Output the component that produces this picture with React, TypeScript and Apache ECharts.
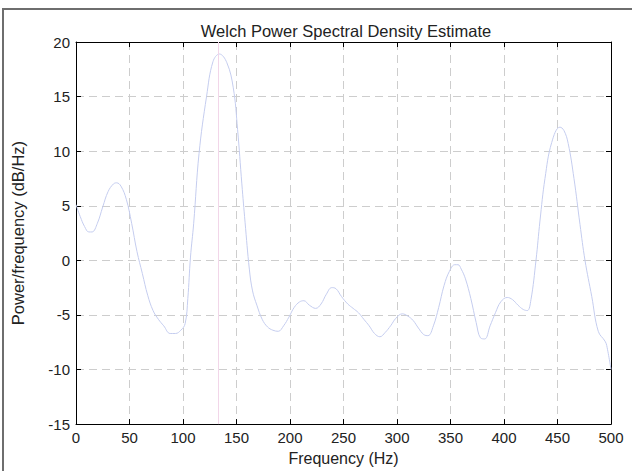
import React, { useEffect, useRef } from "react";
import * as echarts from "echarts";

const freqHz = [
  0, 4, 8, 12, 15, 20, 25, 30, 35, 38, 42, 47, 52, 57, 62, 67, 72, 77, 82, 88,
  93, 98, 102, 104.5, 107, 110, 115, 122, 128, 134, 141, 147, 151, 155, 158, 162,
  165, 169, 174, 179, 184, 189, 194, 199, 204, 209, 213, 218, 224, 229, 234, 239,
  243, 248, 254, 259, 264, 269, 274, 279, 284, 289, 294, 299, 305, 310, 315, 320,
  325, 329, 334, 339, 344, 349, 354, 357, 360, 364, 369, 374, 378, 382, 387, 392,
  397, 403, 408, 413, 418, 421.8, 425.2, 429.9, 433.6, 438.3, 444.6, 452.3, 456,
  460, 465.4, 471, 475.7, 482, 488.1, 494.4, 496, 500,
];
const powerDb = [
  5.1, 4.0, 3.1, 2.6, 2.6, 3.4, 4.9, 6.3, 7.0, 7.1, 6.8, 5.6, 3.4, 0.8, -1.2,
  -3.2, -4.6, -5.4, -6.0, -6.7, -6.7, -6.4, -5.8, -3.5, 0.3, 3.4, 9.8, 15.0, 18.2,
  18.9, 18.1, 15.8, 12.0, 7.0, 3.5, -0.8, -2.8, -4.1, -5.4, -6.1, -6.4, -6.5,
  -6.0, -5.2, -4.3, -3.8, -3.7, -4.1, -4.4, -4.0, -3.1, -2.5, -2.6, -3.3, -4.0,
  -4.4, -4.8, -5.4, -6.0, -6.7, -7.0, -6.6, -6.0, -5.3, -4.9, -5.1, -5.5, -6.2,
  -6.8, -6.9, -6.0, -4.3, -2.3, -1.0, -0.4, -0.4, -0.8, -1.7, -3.5, -5.7, -7.1,
  -7.2, -6.0, -4.8, -3.8, -3.4, -3.6, -4.1, -4.5, -4.6, -3.6, 0.0, 3.6, 7.5, 10.8,
  12.2, 11.9, 10.7, 7.5, 3.3, 0.0, -3.3, -6.5, -7.4, -7.8, -10.0,
];
const markerHz = 132.7;
const xTicks = { min: 0, max: 500, interval: 50 };
const yTicks = { min: -15, max: 20, interval: 5 };

const FONT = "'Liberation Sans', Arial, Helvetica, sans-serif";

export default function App() {
  const ref = useRef<HTMLDivElement>(null);
  useEffect(() => {
    document.body.style.margin = "0";
    const chart = echarts.init(ref.current!, null, { renderer: "svg" });
    const data = freqHz.map((f, i) => [f, powerDb[i]]);
    const textStyle = { fontFamily: FONT, fontSize: 15, color: "#222" };
    const axisLine = { show: true, onZero: false, lineStyle: { color: "#000", width: 1 } };
    const axisTick = { show: true, inside: true, length: 5, lineStyle: { color: "#000" } };
    const splitLine = { show: true, lineStyle: { color: "#cdcdcd", type: [8, 5], width: 1 } };
    chart.setOption({
      animation: false,
      backgroundColor: "#fff",
      title: {
        text: "Welch Power Spectral Density Estimate",
        left: 341,
        textAlign: "center",
        top: 17,
        textStyle: { ...textStyle, fontSize: 16.5, fontWeight: "normal" },
      },
      grid: { left: 76, top: 42, right: 21, bottom: 42 },
      graphic: [
        {
          type: "rect",
          shape: { x: 2, y: 8, width: 630, height: 2 },
          style: { fill: "#6e6e6e" },
          z: 100,
        },
        {
          type: "rect",
          shape: { x: 2, y: 8, width: 2, height: 463 },
          style: { fill: "#6e6e6e" },
          z: 100,
        },
      ],
      xAxis: [
        {
          type: "value",
          ...xTicks,
          name: "Frequency (Hz)",
          nameLocation: "middle",
          nameGap: 25,
          nameTextStyle: { ...textStyle, fontSize: 16 },
          axisLine,
          axisTick,
          axisLabel: { ...textStyle, margin: 6 },
          splitLine,
        },
        {
          type: "value",
          ...xTicks,
          position: "top",
          axisLine,
          axisTick,
          axisLabel: { show: false },
          splitLine: { show: false },
        },
      ],
      yAxis: [
        {
          type: "value",
          ...yTicks,
          name: "Power/frequency (dB/Hz)",
          nameLocation: "middle",
          nameGap: 50,
          nameTextStyle: { ...textStyle, fontSize: 16.5 },
          axisLine,
          axisTick,
          axisLabel: { ...textStyle, margin: 6 },
          splitLine,
        },
        {
          type: "value",
          ...yTicks,
          position: "right",
          axisLine,
          axisTick,
          axisLabel: { show: false },
          splitLine: { show: false },
        },
      ],
      series: [
        {
          type: "line",
          data,
          showSymbol: false,
          smooth: 0.4,
          lineStyle: { color: "#c5cdef", width: 1 },
          markLine: {
            silent: true,
            symbol: "none",
            label: { show: false },
            lineStyle: { color: "#f2d6e9", type: "solid", width: 1 },
            data: [{ xAxis: markerHz }],
          },
        },
      ],
    });
    return () => chart.dispose();
  }, []);
  return (
    <div style={{ position: "relative", width: 632, height: 471 }}>
      <div ref={ref} style={{ width: 632, height: 471 }} />
      <div
        style={{
          position: "absolute",
          left: 2,
          top: 8,
          width: 630,
          height: 2,
          background: "#6e6e6e",
          pointerEvents: "none",
        }}
      />
    </div>
  );
}
